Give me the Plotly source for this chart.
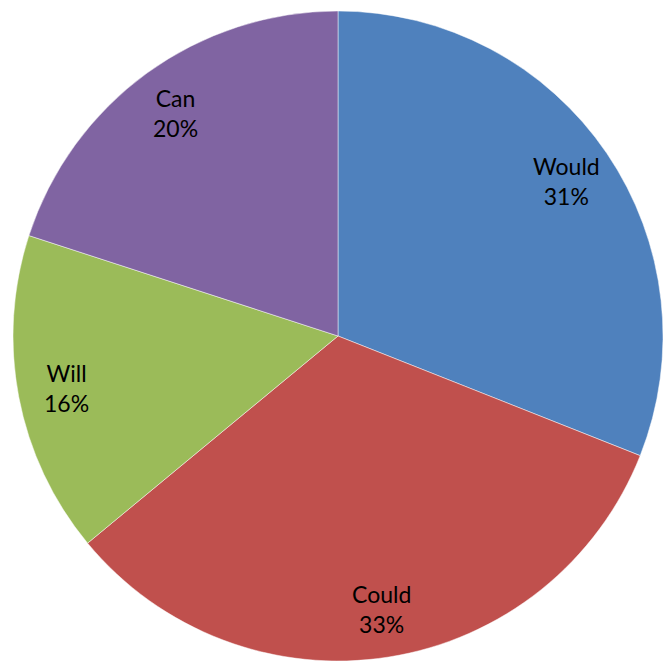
import math
import plotly.graph_objects as go

# Share of each modal verb
labels = ["Would", "Could", "Will", "Can"]
values = [31, 33, 16, 20]
colors = ["#4F81BD", "#C0504D", "#9BBB59", "#8064A2"]

W = H = 663
cx, cy, r = 338, 336, 325  # pie centre (from top-left) and radius in px
label_frac = 0.85          # labels sit near the rim, on each slice's mid-angle
font = dict(family="Lato, Carlito, Calibri, sans-serif", size=23, color="#000000")

fig = go.Figure(
    go.Pie(
        labels=labels,
        values=values,
        sort=False,
        direction="clockwise",
        rotation=0,
        marker=dict(colors=colors, line=dict(color="rgba(255,255,255,0.6)", width=0.8)),
        textinfo="none",
        hoverinfo="label+percent",
        showlegend=False,
        domain=dict(
            x=[(cx - r) / W, min(1, (cx + r) / W)],
            y=[(H - cy - r) / H, (H - cy + r) / H],
        ),
    )
)

# Category / percentage labels placed on the mid-angle of each slice
total = sum(values)
cum = 0.0
for lab, v in zip(labels, values):
    mid = (cum + v / 2) / total * 2 * math.pi  # clockwise from 12 o'clock
    cum += v
    px = cx + label_frac * r * math.sin(mid)
    py = cy - label_frac * r * math.cos(mid)
    fig.add_annotation(
        x=px / W,
        y=1 - py / H,
        xref="paper",
        yref="paper",
        text=f"{lab}<br>{round(v / total * 100)}%",
        showarrow=False,
        font=font,
        align="center",
        xanchor="center",
        yanchor="middle",
    )

fig.update_layout(
    width=W,
    height=H,
    margin=dict(l=0, r=0, t=0, b=0),
    paper_bgcolor="#FFFFFF",
    plot_bgcolor="#FFFFFF",
)

fig.write_html("out.html")
